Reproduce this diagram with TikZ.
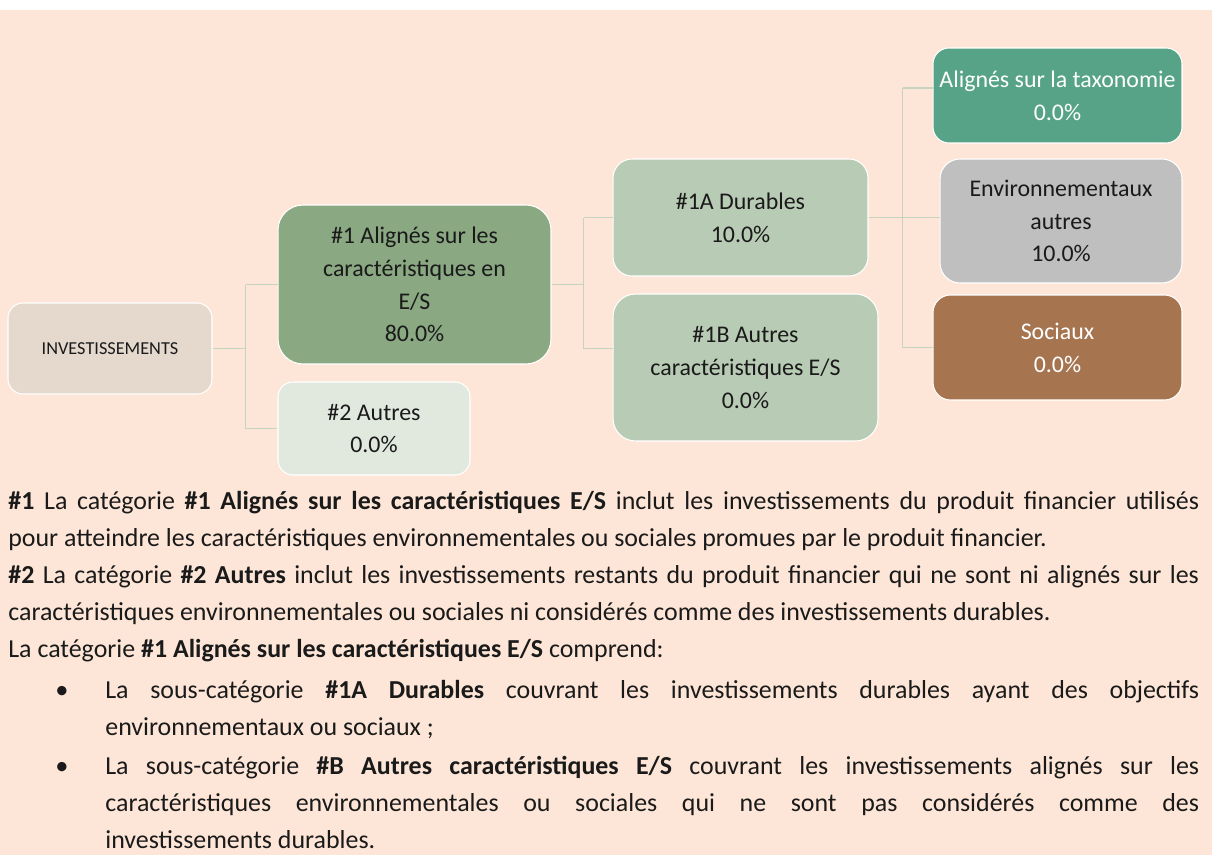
\documentclass[tikz,border=0pt]{standalone}
\usepackage{fontspec}
\setmainfont{Carlito}
\setlength{\parindent}{0pt}

\definecolor{peach}{HTML}{FDE6D7}
\definecolor{investbg}{HTML}{E5D9CE}
\definecolor{catone}{HTML}{8AA882}
\definecolor{cattwo}{HTML}{E1E9DF}
\definecolor{subbg}{HTML}{B8CBB4}
\definecolor{taxobg}{HTML}{56A387}
\definecolor{envobg}{HTML}{BFBFBF}
\definecolor{socbg}{HTML}{A67550}
\definecolor{linkgreen}{HTML}{C4D4BE}
\definecolor{ink}{HTML}{1A1A1A}

\newcommand{\cellfont}{\fontsize{13.6}{18.7}\selectfont}
\newcommand{\notefont}{\fontsize{14.75}{21}\selectfont}

\begin{document}
\begin{tikzpicture}[x=0.02cm,y=-0.02cm]
    \tikzset{
        box/.style={draw=white,line width=0.6pt,align=center,inner sep=0pt,text=ink,font=\cellfont},
        link/.style={draw=linkgreen,line width=0.8pt},
        note/.style={inner sep=0pt,align=justify,text=ink,font=\notefont}
    }
    \fill[white] (0,0) rectangle (1217,855);
    \fill[peach] (0,10) rectangle (1212,855);
    % tree
    \node[box,fill=investbg,minimum width=4.08cm,minimum height=1.82cm,rounded corners=0.3cm,font=\fontsize{10.4}{12}\selectfont] (invest) at (110,348.5) {INVESTISSEMENTS};
    \node[box,fill=catone,minimum width=5.46cm,minimum height=3.18cm,rounded corners=0.5cm] (cat1) at (414.5,284.5) {\#1 Alignés sur les\\caractéristiques en\\E/S\\80.0\%};
    \node[box,fill=cattwo,minimum width=3.84cm,minimum height=1.86cm,rounded corners=0.3cm] (cat2) at (374,428.5) {\#2 Autres\\0.0\%};
    \node[box,fill=subbg,minimum width=5.10cm,minimum height=2.34cm,rounded corners=0.38cm] (sub1a) at (740.5,217.5) {\#1A Durables\\10.0\%};
    \node[box,fill=subbg,minimum width=5.30cm,minimum height=2.94cm,rounded corners=0.45cm] (sub1b) at (745.5,367.5) {\#1B Autres\\caractéristiques E/S\\0.0\%};
    \node[box,fill=taxobg,text=white,minimum width=4.98cm,minimum height=1.90cm,rounded corners=0.32cm] (taxo) at (1057.5,95.5) {Alignés sur la taxonomie\\0.0\%};
    \node[box,fill=envobg,minimum width=4.84cm,minimum height=2.48cm,rounded corners=0.4cm] (envo) at (1061,221) {Environnementaux\\autres\\10.0\%};
    \node[box,fill=socbg,text=white,minimum width=4.98cm,minimum height=2.10cm,rounded corners=0.35cm] (soc) at (1057.5,347.5) {Sociaux\\0.0\%};
    % connectors
    \draw[link] (invest.east) -- ++(33,0) coordinate (b1);
    \draw[link] (b1 |- cat1.west) -- (b1 |- cat2.west);
    \draw[link] (b1 |- cat1.west) -- (cat1.west);
    \draw[link] (b1 |- cat2.west) -- (cat2.west);
    \draw[link] (cat1.east) -- ++(32,0) coordinate (b2);
    \draw[link] (b2 |- sub1a.west) -- (b2 |- invest.east);
    \draw[link] (b2 |- sub1a.west) -- (sub1a.west);
    \draw[link] (b2 |- invest.east) -- (sub1b.west |- invest.east);
    \draw[link] (sub1a.east) -- ++(34,0) coordinate (b3);
    \draw[link] ([yshift=0.15cm]b3 |- taxo.west) -- (b3 |- soc.west);
    \draw[link] ([yshift=0.15cm]b3 |- taxo.west) -- ([yshift=0.15cm]taxo.west);
    \draw[link] (b3) -- (b3 -| envo.west);
    \draw[link] (b3 |- soc.west) -- (soc.west);
    % notes
    \node[note,text width=23.82cm,anchor=base west] (notes) at (8,509.5) {%
        \textbf{\#1} La catégorie \textbf{\#1 Alignés sur les caractéristiques E/S} inclut les investissements du produit financier utilisés\linebreak
        pour atteindre les caractéristiques environnementales ou sociales promues par le produit financier.\par
        \textbf{\#2} La catégorie \textbf{\#2 Autres} inclut les investissements restants du produit financier qui ne sont ni alignés sur les\linebreak
        caractéristiques environnementales ou sociales ni considérés comme des investissements durables.\par
        La catégorie \textbf{\#1 Alignés sur les caractéristiques E/S} comprend:};
    \node[note,text width=21.88cm,anchor=base west] (item1) at (105,698.5) {%
        La sous-catégorie \textbf{\#1A Durables} couvrant les investissements durables ayant des objectifs\linebreak
        environnementaux ou sociaux ;};
    \node[note,text width=21.88cm,anchor=base west] (item2) at (105,774.5) {%
        La sous-catégorie \textbf{\#B Autres caractéristiques E/S} couvrant les investissements alignés sur les\linebreak
        caractéristiques environnementales ou sociales qui ne sont pas considérés comme des\linebreak
        investissements durables.};
    \node[note,font=\fontsize{15}{15}\selectfont,anchor=base] (dot1) at (62,698.5) {•};
    \node[note,font=\fontsize{15}{15}\selectfont,anchor=base] (dot2) at (62,774.5) {•};
\end{tikzpicture}
\end{document}
